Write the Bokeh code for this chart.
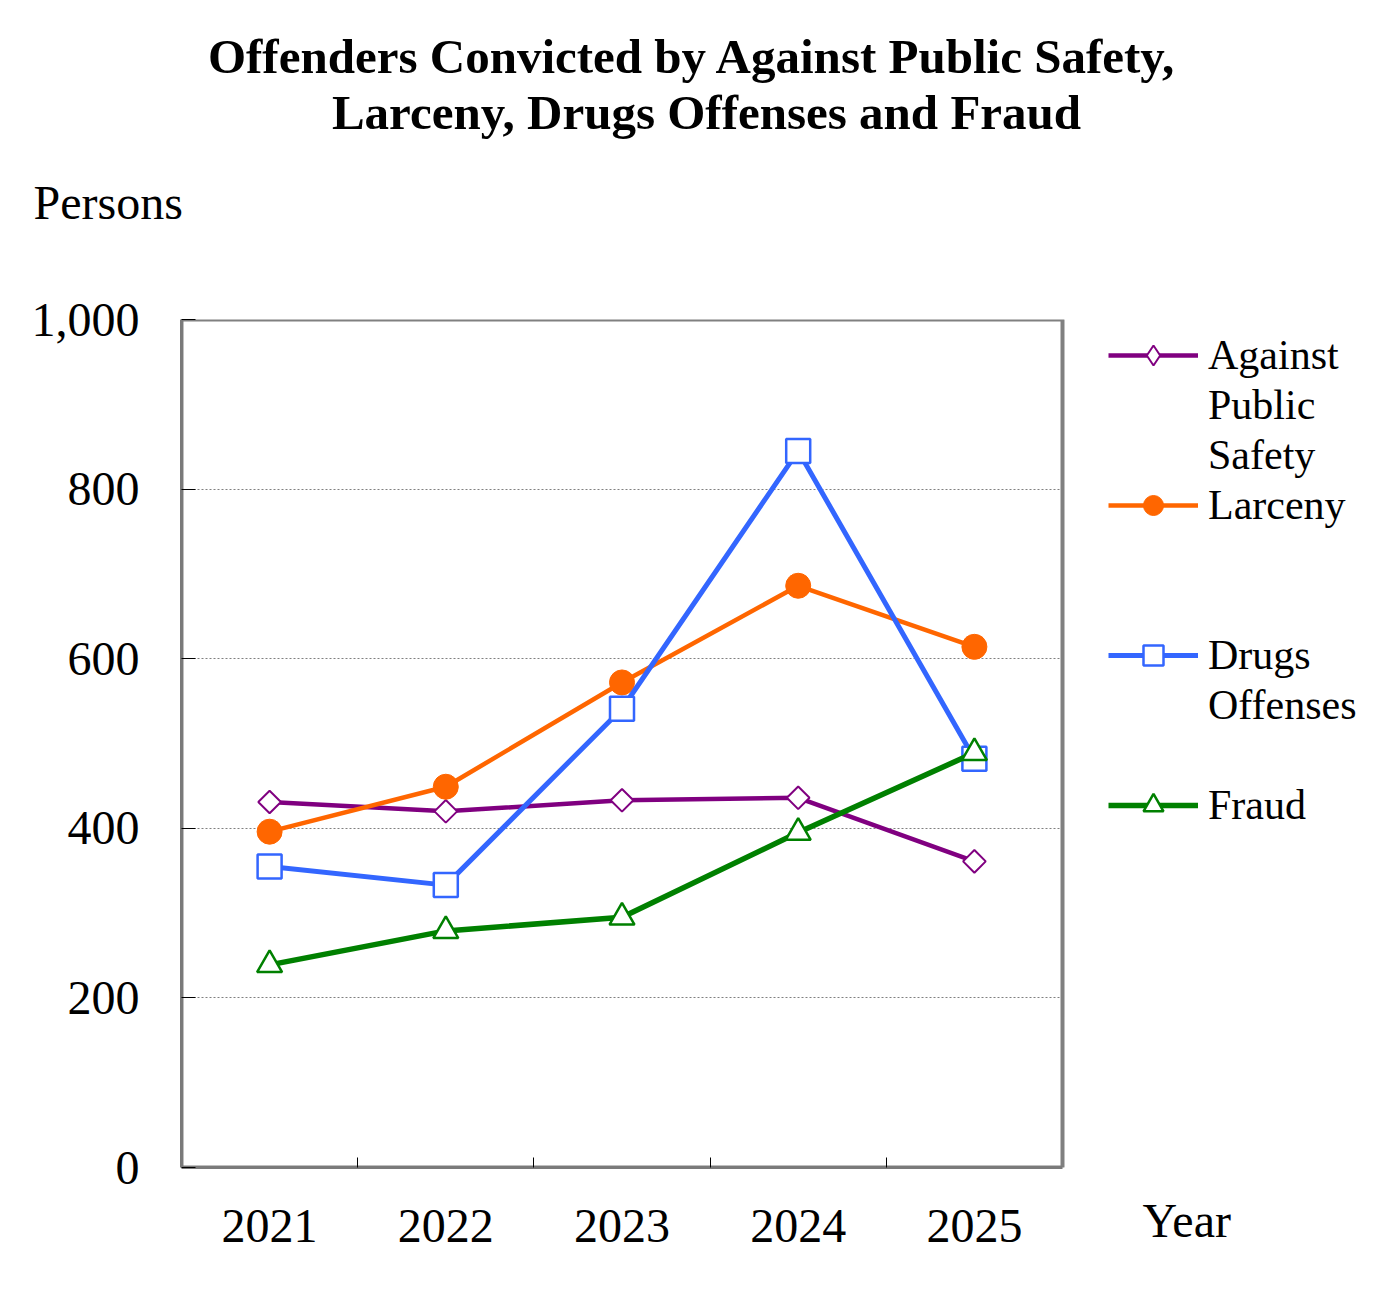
import math
from bokeh.plotting import figure
from bokeh.models import (Legend, LegendItem, Label, FixedTicker, NumeralTickFormatter,
                          Range1d, BoxAnnotation)
from bokeh.embed import file_html
from bokeh.resources import INLINE

# ---- data ----
years = [2021, 2022, 2023, 2024, 2025]
public_safety = [431, 420, 433, 436, 361]
larceny = [396, 449, 572, 686, 614]
drugs = [355, 333, 541, 845, 482]
fraud = [239, 279, 295, 395, 489]
y_ticks = [0, 200, 400, 600, 800, 1000]
category_edges = [2021.5, 2022.5, 2023.5, 2024.5]
title_lines = ["Offenders Convicted by Against Public Safety,",
               "Larceny, Drugs Offenses and Fraud"]
series_labels = ["Against Public Safety", "Larceny", "Drugs Offenses", "Fraud"]
y_caption = "Persons"
x_caption = "Year"

FONT = "Liberation Serif"
W, H = 1388, 1308
BOX_L, BOX_R, BOX_T, BOX_B = 181, 1062, 319, 1167   # plot box in canvas pixels

# the frame runs to the right edge of the canvas so that the legend can sit in it;
# the x range is widened so that the category band 2020.5..2025.5 fills the plot box
X0, X1 = years[0] - 0.5, years[-1] + 0.5
x_end = X1 + (X1 - X0) * (W - BOX_R) / (BOX_R - BOX_L)

p = figure(width=W, height=H, output_backend="svg", toolbar_location=None,
           title_location=None,
           x_range=Range1d(X0, x_end), y_range=Range1d(y_ticks[0], y_ticks[-1]),
           min_border_left=BOX_L, min_border_right=0,
           min_border_top=BOX_T, min_border_bottom=H - BOX_B)
p.background_fill_color = "white"
p.border_fill_color = "white"
p.outline_line_color = None

# axes
xa = p.xaxis[0]
xa.bounds = (X0, X1)
xa.ticker = FixedTicker(ticks=years, minor_ticks=category_edges)
xa.major_tick_line_color = None
xa.minor_tick_in = 10
xa.minor_tick_out = 0
xa.minor_tick_line_color = "black"
xa.axis_line_color = "#7a7a7a"
xa.axis_line_width = 3
xa.major_label_text_font = FONT
xa.major_label_text_font_size = "48px"
xa.major_label_standoff = 36
xa.major_label_text_color = "black"

ya = p.yaxis[0]
ya.ticker = FixedTicker(ticks=y_ticks)
ya.formatter = NumeralTickFormatter(format="0,0")
ya.major_tick_in = 14
ya.major_tick_out = 0
ya.major_tick_line_color = "black"
ya.minor_tick_line_color = None
ya.axis_line_color = "#7a7a7a"
ya.axis_line_width = 3
ya.major_label_text_font = FONT
ya.major_label_text_font_size = "48px"
ya.major_label_standoff = 42
ya.major_label_text_color = "black"

p.xgrid.grid_line_color = None
p.ygrid.ticker = FixedTicker(ticks=y_ticks[1:-1])
p.ygrid.grid_line_color = "#808080"
p.ygrid.grid_line_dash = "2 2"
p.ygrid.grid_line_width = 1

# white band right of the plot box (hides the grid there), then the box outline
p.add_layout(BoxAnnotation(left=X1, fill_color="white", fill_alpha=1,
                           line_color=None, level="underlay"))
p.add_layout(BoxAnnotation(left=X0, right=X1, bottom=y_ticks[0], top=y_ticks[-1],
                           fill_alpha=0, line_color="#808080", line_alpha=1,
                           line_width=4, level="underlay"))

# series
l1 = p.line(years, public_safety, line_color="#800080", line_width=4.5)
m1 = p.scatter(years, public_safety, marker="square", size=16, angle=math.pi / 4,
               fill_color="white", line_color="#800080", line_width=2)
# legend swatch for the rotated-square markers (legend swatches are never rotated)
m1_key = p.scatter([float("nan")], [float("nan")], marker="diamond", size=24,
                   fill_color="white", line_color="#800080", line_width=2)
l2 = p.line(years, larceny, line_color="#FF6600", line_width=4.5)
m2 = p.scatter(years, larceny, marker="circle", size=25,
               fill_color="#FF6600", line_color="#FF6600", line_width=1)
l3 = p.line(years, drugs, line_color="#3366FF", line_width=5)
m3 = p.scatter(years, drugs, marker="square", size=24,
               fill_color="white", line_color="#3366FF", line_width=2.5)
l4 = p.line(years, fraud, line_color="#008000", line_width=5.5)
m4 = p.scatter(years, fraud, marker="triangle", size=25,
               fill_color="white", line_color="#008000", line_width=2.5)

# legend: one row per text line, each series occupying three rows
key_renderers = [[l1, m1_key], [l2, m2], [l3, m3], [l4, m4]]
items = []
for i, (lab, rends) in enumerate(zip(series_labels, key_renderers)):
    words = lab.split(" ")
    rows = words + [""] * (3 - len(words)) if i < len(series_labels) - 1 else words
    for j, w in enumerate(rows):
        items.append(LegendItem(label=w, renderers=rends if j == 0 else []))

ROW_H = 50
n_rows = len(items)
legend_h = n_rows * ROW_H
legend_top = 355 - ROW_H // 2
legend = Legend(items=items, location=(1108 - BOX_L, BOX_B - (legend_top + legend_h)))
legend.border_line_color = None
legend.background_fill_alpha = 0
legend.padding = 0
legend.margin = 0
legend.spacing = 0
legend.glyph_width = 90
legend.glyph_height = ROW_H
legend.label_height = ROW_H
legend.label_standoff = 10
legend.label_text_font = FONT
legend.label_text_font_size = "42px"
legend.label_text_color = "black"
p.add_layout(legend, "center")

# titles and captions, laid out in the top panel, positioned in canvas pixels
def caption(text, x, y, size, align="left", bold=False):
    return Label(x=x, y=y, x_units="canvas", y_units="canvas", text=text,
                 text_align=align, text_baseline="middle", text_font=FONT,
                 text_font_size=size, text_font_style="bold" if bold else "normal",
                 text_color="black")

p.add_layout(caption(title_lines[0], 692, 56, "49px", "center", True), "above")
p.add_layout(caption(title_lines[1], 706, 112, "49px", "center", True), "above")
p.add_layout(caption(y_caption, 33, 202, "48px"), "above")
p.add_layout(caption(x_caption, 1142, 1220, "48px"), "above")

open("out.html", "w").write(file_html(p, INLINE))
